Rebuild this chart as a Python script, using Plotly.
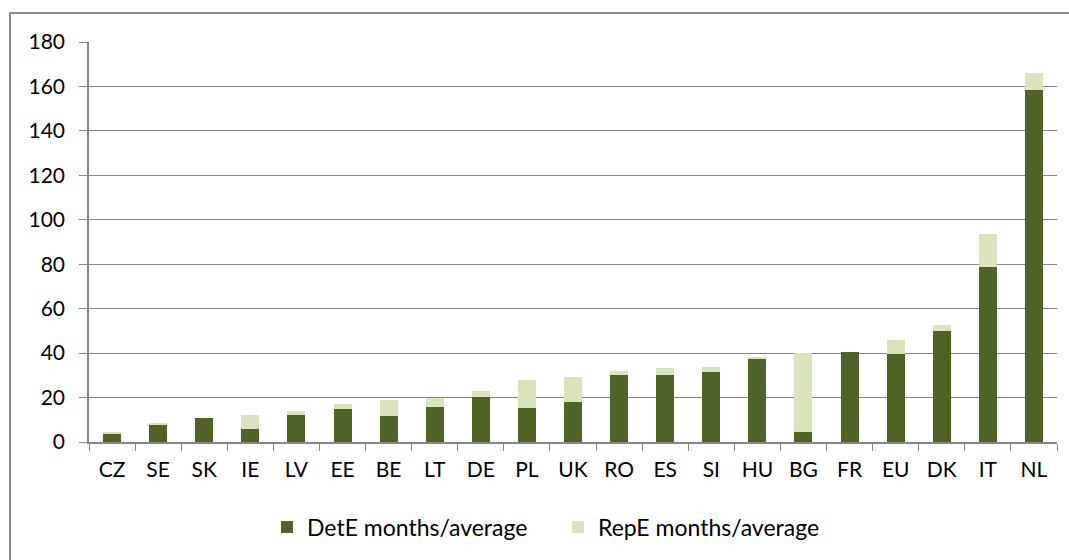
import plotly.graph_objects as go

countries = ["CZ", "SE", "SK", "IE", "LV", "EE", "BE", "LT", "DE", "PL", "UK",
             "RO", "ES", "SI", "HU", "BG", "FR", "EU", "DK", "IT", "NL"]
dete = [3.6, 7.6, 10.7, 5.8, 12.1, 14.8, 11.6, 15.7, 20.1, 15.2, 17.9,
        30.0, 30.0, 31.3, 37.2, 4.5, 40.3, 39.4, 50.1, 78.8, 158.3]
repe = [0.9, 0.9, 0.0, 6.3, 1.8, 2.2, 7.2, 4.0, 2.7, 12.5, 11.2,
        1.8, 3.1, 2.3, 0.9, 35.4, 0.0, 6.3, 2.7, 15.0, 7.8]
y_ticks = [0, 20, 40, 60, 80, 100, 120, 140, 160, 180]

FONT = "Lato, 'Open Sans', 'Liberation Sans', sans-serif"

fig = go.Figure()
fig.add_trace(go.Bar(x=countries, y=dete, name="DetE months/average",
                     marker=dict(color="#4F6228", line=dict(width=0))))
fig.add_trace(go.Bar(x=countries, y=repe, name="RepE months/average",
                     marker=dict(color="#D7E4BD", line=dict(width=0))))

W, H = 1069, 560
L, R, T, B = 89, 12, 42, 118
pw, ph = W - L - R, H - T - B

fig.update_layout(
    width=W, height=H,
    barmode="stack", bargap=0.61,
    margin=dict(l=L, r=R, t=T, b=B, pad=0, autoexpand=False),
    paper_bgcolor="white", plot_bgcolor="white",
    font=dict(family=FONT, size=21, color="#000000"),
    showlegend=True,
    legend=dict(orientation="h", x=0.4845, xanchor="center", y=(442 - 527) / ph,
                yanchor="middle", font=dict(size=23), traceorder="normal",
                itemwidth=30, entrywidthmode="pixels", entrywidth=246),
    xaxis=dict(type="category", showline=True, linecolor="#868686", linewidth=1.5,
               ticks="outside", ticklen=7, tickcolor="#868686", tickson="boundaries",
               showgrid=False, tickfont=dict(size=21), ticklabelstandoff=8,
               range=[-0.5, len(countries) - 0.5]),
    yaxis=dict(range=[0, 180], tickvals=y_ticks, showline=True, linecolor="#868686",
               linewidth=1.5, ticks="outside", ticklen=8, tickcolor="#868686",
               showgrid=True, gridcolor="#868686", gridwidth=1, zeroline=False,
               tickfont=dict(size=21), ticklabelstandoff=10),
    shapes=[dict(type="rect", xref="paper", yref="paper",
                 x0=(10 - L) / pw, x1=(W + 5 - L) / pw,
                 y0=(442 - (H + 5)) / ph, y1=(442 - 13) / ph,
                 line=dict(color="#8C8C8C", width=2), fillcolor="rgba(0,0,0,0)",
                 layer="below")],
)

fig.write_html(
    "out.html",
    config={"displayModeBar": False},
    post_script="document.body.style.margin='0';document.body.style.overflow='hidden';",
)
